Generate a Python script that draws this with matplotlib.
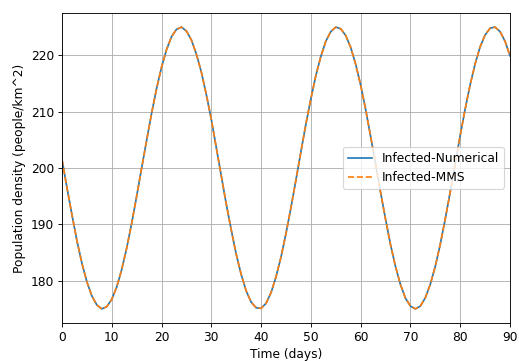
from matplotlib import pyplot as plt
import numpy as np

# time in days and infected population density
days = list(range(0, 91))
infected_mms = [201.5, 196.5, 191.7, 187.1, 183.1, 179.8, 177.3, 175.7, 175.0, 175.4,
                176.7, 178.9, 182.0, 185.8, 190.2, 195.0, 200.0, 204.9, 209.7, 214.1,
                217.9, 221.0, 223.3, 224.6, 225.0, 224.3, 222.7, 220.2, 217.0, 213.0,
                208.6, 203.6, 198.6, 193.6, 189.0, 184.7, 181.1, 178.2, 176.2, 175.2,
                175.1, 176.0, 177.9, 180.7, 184.2, 188.4, 193.0, 197.9, 202.9, 207.8,
                212.3, 216.4, 219.8, 222.5, 224.2, 225.0, 224.7, 223.5, 221.4, 218.4,
                214.7, 210.4, 205.6, 200.7, 195.7, 190.9, 186.4, 182.5, 179.3, 176.9,
                175.5, 175.0, 175.5, 177.0, 179.4, 182.6, 186.5, 191.0, 195.8, 200.8,
                205.8, 210.5, 214.8, 218.5, 221.5, 223.6, 224.8, 225.0, 224.2, 222.5,
                219.9]
# numerical solution overlaps the manufactured one
infected_num = list(infected_mms)

DPI = 80
plt.rcParams['font.size'] = 11
fig = plt.figure(figsize=(519 / DPI, 361 / DPI), dpi=DPI)
ax = plt.axes()

ax.plot(days, infected_num, color='tab:blue', label='Infected-Numerical')
ax.plot(days, infected_mms, color='tab:orange', linestyle='--', label='Infected-MMS')

ax.set_xlim(0, 90)
ax.set_xlabel('Time (days)')
ax.set_ylabel('Population density (people/km^2)')
ax.grid(True)
ax.legend(loc='center right')

fig.subplots_adjust(left=62 / 519, right=510 / 519, top=1 - 13 / 361, bottom=1 - 323 / 361)
fig.savefig('out.png', dpi=DPI)
